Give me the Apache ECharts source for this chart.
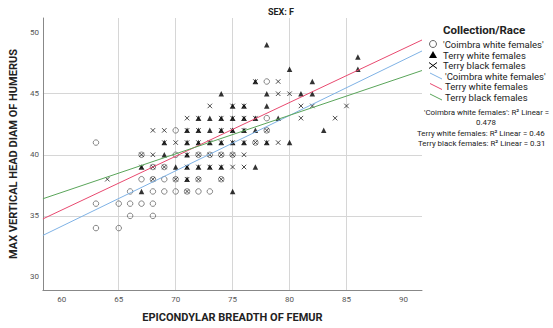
<!DOCTYPE html>
<html><head><meta charset="utf-8">
<script src="https://cdn.jsdelivr.net/npm/echarts@6/dist/echarts.min.js"></script>
<style>html,body{margin:0;padding:0;background:#fff}#c{width:553px;height:328px}</style>
</head><body><div id="c"></div>
<script>
// Tick labels
const xTicks = [60, 65, 70, 75, 80, 85, 90];
const yTicks = [30, 35, 40, 45, 50];
// Axis extents
const xRange = [58.34, 91.63];
const yRange = [28.93, 51.2];

// 'Coimbra white females' (open circles)
const coimbra = [
  [78,46],[78,43],[70,42],[78,42],[63,41],[77,41],
  [67,40],[70,40],[72,40],[73,40],[74,40],[75,40],
  [68,39],[69,39],
  [67,38],[68,38],[69,38],[70,38],[72,38],[74,38],
  [66,37],[68,37],[69,37],[70,37],[71,37],[72,37],[73,37],
  [63,36],[65,36],[66,36],[67,36],[68,36],
  [66,35],[68,35],[63,34],[65,34]
];
// Terry white females (filled triangles)
const terryWhite = [
  [78,49],[86,48],[80,47],[86,47],[77,46],[82,46],
  [74,45],[78,45],[81,45],[82,45],
  [75,44],[76,44],[78,44],
  [72,43],[73,43],[74,43],[75,43],[76,43],[77,43],[79,43],
  [71,42],[72,42],[73,42],[74,42],[75,42],[76,42],[77,42],[83,42],
  [69,41],[71,41],[72,41],[73,41],[74,41],[75,41],[76,41],[78,41],[80,41],
  [69,40],[71,40],
  [67,39],[70,39],[71,39],[72,39],[73,39],[74,39],[77,39],
  [71,38],[67,37],[75,37]
];
// Terry black females (x marks)
const terryBlack = [
  [77,46],[79,46],[79,45],[80,45],
  [73,44],[75,44],[76,44],[81,44],[82,44],[85,44],
  [71,43],[72,43],[74,43],[75,43],[76,43],[77,43],[81,43],[84,43],
  [68,42],[69,42],[71,42],[72,42],[74,42],[75,42],[76,42],[78,42],
  [69,41],[70,41],[71,41],[72,41],[73,41],[74,41],[75,41],[76,41],[77,41],[78,41],[79,41],
  [67,40],[68,40],[71,40],[72,40],[73,40],[74,40],[75,40],[76,40],
  [67,39],[68,39],[69,39],[71,39],[72,39],[73,39],[74,39],[75,39],[76,39],
  [64,38],[68,38],[70,38],[71,38],[72,38],[74,38],
  [71,37]
];
// Linear fit lines (end points)
const coimbraFit = [[58.34, 33.4], [91.63, 48.5]];
const terryWhiteFit = [[58.34, 34.75], [91.63, 49.4]];
const terryBlackFit = [[58.34, 36.4], [91.63, 46.9]];

const groupNames = ["'Coimbra white females'", "Terry white females", "Terry black females"];
const r2Text = ["'Coimbra white females': R² Linear =", "0.478", "Terry white females: R² Linear = 0.46", "Terry black females: R² Linear = 0.31"];

const FONT = 'Roboto';
const colBlue = '#7fb2e5', colRed = '#e8496f', colGreen = '#5aa55a';
const xPath = 'path://M0,0L10,10M10,0L0,10';

const chart = echarts.init(document.getElementById('c'), null, {renderer: 'svg'});

const legendX = 433, textX = 443;
const legY = [44, 55, 65.5, 76, 86.5, 97];
const graphics = [
  {type:'text', style:{text:'SEX: F', x:281, y:12, textAlign:'center', textVerticalAlign:'middle', font:'bold 9px ' + FONT, fill:'#222'}},
  {type:'text', style:{text:'Collection/Race', x:443, y:30, textAlign:'left', textVerticalAlign:'middle', font:'bold 11.5px ' + FONT, fill:'#222'}},
  {type:'circle', shape:{cx:legendX, cy:legY[0], r:3.5}, style:{fill:'none', stroke:'#666', lineWidth:1}},
  {type:'polygon', shape:{points:[[legendX, legY[1]-4],[legendX+4, legY[1]+3],[legendX-4, legY[1]+3]]}, style:{fill:'#000'}},
  {type:'polyline', shape:{points:[[legendX-4, legY[2]-3],[legendX+4, legY[2]+3]]}, style:{stroke:'#000', lineWidth:1}},
  {type:'polyline', shape:{points:[[legendX+4, legY[2]-3],[legendX-4, legY[2]+3]]}, style:{stroke:'#000', lineWidth:1}},
  {type:'line', shape:{x1:430, y1:legY[3]-3, x2:442, y2:legY[3]+3}, style:{stroke:colBlue, lineWidth:1}},
  {type:'line', shape:{x1:430, y1:legY[4]-3, x2:442, y2:legY[4]+3}, style:{stroke:colRed, lineWidth:1}},
  {type:'line', shape:{x1:430, y1:legY[5]-3, x2:442, y2:legY[5]+3}, style:{stroke:colGreen, lineWidth:1}}
];
for (let i = 0; i < 6; i++) {
  graphics.push({type:'text', style:{text: groupNames[i % 3], x: i < 3 ? textX : textX + 2, y: legY[i], textAlign:'left', textVerticalAlign:'middle', font:'9.5px ' + FONT, fill:'#222'}});
}
const r2Y = [112, 122.5, 133, 143.5];
const r2X = [424, 486, 417, 418];
r2Text.forEach((t, i) => {
  graphics.push({type:'text', style:{text:t, x: r2X[i], y: r2Y[i], textAlign: i === 1 ? 'center' : 'left', textVerticalAlign:'middle', font:'7.9px ' + FONT, fill:'#222'}});
});

chart.setOption({
  animation: false,
  backgroundColor: '#fff',
  grid: {left: 41, right: 131, top: 18, bottom: 35, containLabel: false},
  xAxis: {
    type: 'value', min: xRange[0], max: xRange[1],
    name: 'EPICONDYLAR BREADTH OF FEMUR', nameLocation: 'middle', nameGap: 22,
    nameTextStyle: {fontFamily: FONT, fontWeight: 'bold', fontSize: 11, color: '#222'},
    axisLine: {show: true, onZero: false, lineStyle: {color: '#888', width: 1}},
    axisTick: {show: false, customValues: xTicks},
    axisLabel: {customValues: xTicks, fontFamily: FONT, fontSize: 8, color: '#555', margin: 5},
    splitLine: {show: true, showMinLine: false, showMaxLine: false, lineStyle: {color: '#d6d6d6', width: 1}}
  },
  yAxis: {
    type: 'value', min: yRange[0], max: yRange[1],
    name: 'MAX VERTICAL HEAD DIAM OF HUMERUS', nameLocation: 'middle', nameGap: 21,
    nameTextStyle: {fontFamily: FONT, fontWeight: 'bold', fontSize: 11, color: '#222'},
    axisLine: {show: true, onZero: false, lineStyle: {color: '#888', width: 1}},
    axisTick: {show: false, customValues: yTicks},
    axisLabel: {customValues: yTicks, fontFamily: FONT, fontSize: 8, color: '#555', margin: 4},
    splitLine: {show: true, showMinLine: false, showMaxLine: false, lineStyle: {color: '#d6d6d6', width: 1}}
  },
  graphic: graphics,
  series: [
    {type: 'scatter', name: groupNames[0], data: coimbra, symbol: 'circle', symbolSize: 5.5,
     itemStyle: {color: 'rgba(0,0,0,0)', borderColor: '#666', borderWidth: 1}, z: 2},
    {type: 'scatter', name: groupNames[2], data: terryBlack, symbol: xPath, symbolSize: 4.5,
     itemStyle: {color: 'rgba(0,0,0,0)', borderColor: '#222', borderWidth: 1}, z: 3},
    {type: 'scatter', name: groupNames[1], data: terryWhite, symbol: 'triangle', symbolSize: 5.5,
     itemStyle: {color: '#000'}, z: 4},
    {type: 'line', name: 'fit0', data: coimbraFit, symbol: 'none', lineStyle: {color: colBlue, width: 1}, z: 5, silent: true},
    {type: 'line', name: 'fit1', data: terryWhiteFit, symbol: 'none', lineStyle: {color: colRed, width: 1}, z: 5, silent: true},
    {type: 'line', name: 'fit2', data: terryBlackFit, symbol: 'none', lineStyle: {color: colGreen, width: 1}, z: 5, silent: true}
  ]
});
</script></body></html>
